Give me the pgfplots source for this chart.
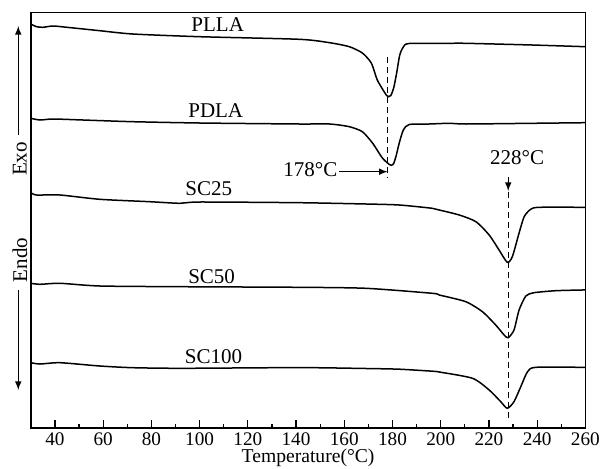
\documentclass[border=0pt]{standalone}
\usepackage{fontspec}
\setmainfont{Liberation Serif}
\usepackage{pgfplots}
\pgfplotsset{compat=1.18}
\begin{document}
\begin{tikzpicture}
\useasboundingbox (-15.4pt,-20pt) rectangle (285.1pt,214pt);
\begin{axis}[
  scale only axis,
  width=277.3pt,
  height=207.65pt,
  xmin=30, xmax=260,
  ymin=-428, ymax=-12.7,
  xtick={40,60,...,260},
  minor x tick num=1,
  ytick=\empty,
  xtick pos=lower,
  tick align=inside,
  major tick length=4pt,
  minor tick length=1.9pt,
  every tick/.style={black, line width=0.6pt},
  axis line style={black, line width=0.7pt},
  /pgf/number format/assume math mode=true,
  tick label style={font=\fontsize{9.6}{11}\selectfont},
  xticklabel style={anchor=north, inner sep=0pt, yshift=-2.2pt},
  xlabel={Temperature(°C)},
  label style={font=\fontsize{9.8}{11}\selectfont},
  xlabel style={at={(axis description cs:0.5,0)}, anchor=base, inner sep=0pt, yshift=-17pt},
  clip=false,
]
% PLLA
\addplot[black, line width=0.75pt, smooth, tension=0.4] coordinates {
  (30,-24)(32.4,-26.7)(35,-27.3)(39.2,-26)(45,-27.3)(58.6,-30.7)(72.3,-34)
  (100,-36.7)(141.4,-39.3)(153.9,-42.7)(162.1,-46.7)(167.5,-53)(171.2,-63)
  (173.7,-80)(176.6,-92)(177.6,-95.5)(178.4,-96.7)(179.3,-95.5)(180.5,-88)
  (181.8,-72)(183,-55)(184.5,-47)(186.9,-43.5)(203.5,-43.3)(210.4,-43.3)
  (237.9,-45)(260,-46.7)
};
% PDLA
\addplot[black, line width=0.75pt, smooth, tension=0.4] coordinates {
  (30,-118.3)(33.8,-120)(39.2,-119)(51.6,-120)(72.3,-121.7)
  (100,-123)(141.4,-124)(153.9,-124)(162.1,-126.7)(167.5,-131.7)
  (171.7,-143)(175.8,-158)(178.7,-164.5)(179.5,-165.3)(180.5,-163.5)
  (181.6,-155)(182.8,-143)(184.5,-130)(186.9,-124.5)(195.2,-124)(203.5,-123.3)
  (210.4,-124)(237.9,-123.3)(260,-122.7)
};
% SC25
\addplot[black, line width=0.75pt, smooth, tension=0.4] coordinates {
  (30,-192.7)(32.4,-195)(42.1,-195)(58.6,-199.3)(79.3,-201.7)(91.8,-203.3)
  (100,-202)(141.4,-202.7)(169,-204)(182.8,-205)(196.5,-208.3)(199.4,-210)
  (207.7,-215)(214.6,-221.7)(220.1,-235)(224.2,-250)(227.6,-262.3)
  (229.7,-256.7)(232.5,-233)(234.6,-216.7)(237.3,-209.3)(240.8,-207.3)
  (260,-207.3)
};
% SC50
\addplot[black, line width=0.75pt, smooth, tension=0.4] coordinates {
  (30,-283.3)(33.8,-284.3)(42.1,-283.3)(58.6,-286)(91.8,-286.7)(141.4,-287.3)
  (169,-288.3)(196.5,-293.3)(199.4,-295)(210.4,-301.7)(217.3,-311.7)
  (222.8,-325)(226.3,-335)(228,-337.7)(230.4,-330)(232.5,-310)(235.3,-296)
  (238.7,-292.7)(247.7,-290.7)(258.6,-290)(260,-290)
};
% SC100
\addplot[black, line width=0.75pt, smooth, tension=0.4] coordinates {
  (30,-362.7)(33.8,-364)(42.1,-362.7)(58.6,-366)(72.3,-367.7)(93,-368.3)
  (141.4,-367.6)(169,-368.5)(182.8,-369.2)(196.5,-371.2)(199.4,-372)
  (213.2,-378.3)(220.1,-390)(224.9,-401.7)(227.6,-408.3)(230.4,-401.7)
  (233.2,-386.7)(236,-371.7)(239.4,-367.3)(258.6,-367.3)(260,-367.3)
};
% peak markers
\draw[dashed, line width=0.5pt, dash pattern=on 3pt off 2pt]
  (axis cs:178,-57) -- (axis cs:178,-178);
\draw[dashed, line width=0.5pt, dash pattern=on 3pt off 2pt]
  (axis cs:228,-192) -- (axis cs:228,-419);
\draw[-latex, line width=0.5pt] (axis cs:158,-171.7) -- (axis cs:178,-171.7);
\draw[-latex, line width=0.5pt] (axis cs:228,-177) -- (axis cs:228,-191);
\begin{scope}[every node/.style={font=\fontsize{10.5}{12}\selectfont, inner sep=0pt}]
\node[anchor=east] at (axis cs:157.3,-170) {178°C};
\node at (axis cs:231.7,-158) {228°C};
\node at (axis cs:107.5,-25) {PLLA};
\node at (axis cs:106.7,-111) {PDLA};
\node at (axis cs:103.8,-189) {SC25};
\node at (axis cs:105,-276.7) {SC50};
\node at (axis cs:105.8,-356.7) {SC100};
\node[rotate=90] at (axis cs:25.5,-159) {Exo};
\node[rotate=90] at (axis cs:25.5,-260) {Endo};
\end{scope}
\draw[-latex, line width=0.5pt] (axis cs:24.8,-135) -- (axis cs:24.8,-26);
\draw[-latex, line width=0.5pt] (axis cs:24.8,-290) -- (axis cs:24.8,-390);
\end{axis}
\end{tikzpicture}
\end{document}
